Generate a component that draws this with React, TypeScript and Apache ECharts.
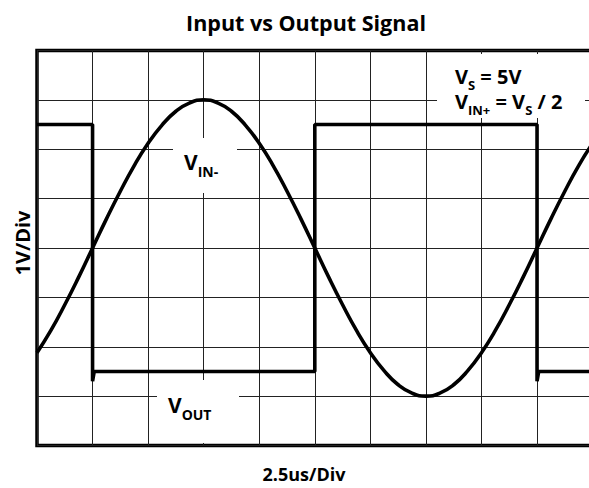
import React, { useEffect, useRef } from "react";
import * as echarts from "echarts";

// Divisions: x = 2.5us/div (10 divs), y = 1V/div (8 divs)
const vinX = [0, 0.25, 0.5, 0.75, 1, 1.25, 1.5, 1.75, 2, 2.25, 2.5, 2.75, 3, 3.25, 3.5, 3.75, 4, 4.25, 4.5, 4.75, 5, 5.25, 5.5, 5.75, 6, 6.25, 6.5, 6.75, 7, 7.25, 7.5, 7.75, 8, 8.25, 8.5, 8.75, 9, 9.25, 9.5, 9.75, 10];
const vinY = [1.88, 2.33, 2.85, 3.41, 4.0, 4.59, 5.15, 5.67, 6.12, 6.49, 6.77, 6.94, 7.0, 6.94, 6.77, 6.49, 6.12, 5.67, 5.15, 4.59, 4.0, 3.41, 2.85, 2.33, 1.88, 1.51, 1.23, 1.06, 1.0, 1.06, 1.23, 1.51, 1.88, 2.33, 2.85, 3.41, 4.0, 4.59, 5.15, 5.67, 6.12];
const voutX = [0, 1.0, 1.0, 1.03, 5.0, 5.0, 9.0, 9.0, 9.03, 10];
const voutY = [6.5, 6.5, 1.3, 1.5, 1.5, 6.5, 6.5, 1.3, 1.5, 1.5];

const titleText = "Input vs Output Signal";
const xName = "2.5us/Div";
const yName = "1V/Div";

const FONT = "'Open Sans', 'Noto Sans', sans-serif";

export default function App() {
  const ref = useRef<HTMLDivElement>(null);
  useEffect(() => {
    if (!ref.current) return;
    const chart = echarts.init(ref.current, null, { renderer: "svg" });
    const vinData = vinX.map((x, i) => [x, vinY[i]]);
    const voutData = voutX.map((x, i) => [x, voutY[i]]);
    const mainTok = { fontSize: 21, fontWeight: "bold", fontFamily: FONT, lineHeight: 22, verticalAlign: "top", fill: "#000" };
    const subTok = { fontSize: 14, fontWeight: "bold", fontFamily: FONT, lineHeight: 14, verticalAlign: "top", padding: [13, 0, 0, 0], fill: "#000" };
    const mainTok2 = { ...mainTok, fontSize: 20 };
    const subTok2 = { ...subTok, fontSize: 13, lineHeight: 13, padding: [12, 0, 0, 0] };
    const axis = (max: number) => ({
      type: "value",
      min: 0,
      max,
      interval: 1,
      axisLine: { show: false },
      axisTick: { show: false },
      axisLabel: { show: false },
      splitLine: { show: true, lineStyle: { color: "#222", width: 1 } },
    });
    chart.setOption({
      animation: false,
      backgroundColor: "#fff",
      grid: {
        left: 37,
        top: 50.5,
        width: 555.6,
        height: 395,
        outerBoundsMode: "none",
        containLabel: false,
        show: true,
        borderColor: "#000",
        borderWidth: 3.5,
        backgroundColor: "#fff",
      },
      xAxis: axis(10),
      yAxis: axis(8),
      series: [
        {
          name: "VIN-",
          type: "line",
          data: vinData,
          symbol: "none",
          smooth: true,
          lineStyle: { color: "#000", width: 3.6 },
          z: 3,
        },
        {
          name: "VOUT",
          type: "line",
          data: voutData,
          symbol: "none",
          lineStyle: { color: "#000", width: 3.6 },
          z: 3,
        },
      ],
      graphic: [
        { type: "rect", z: 100, shape: { x: 437, y: 54, width: 148, height: 64 }, style: { fill: "#fff" } },
        { type: "rect", z: 100, shape: { x: 173, y: 138, width: 64, height: 55 }, style: { fill: "#fff" } },
        { type: "rect", z: 100, shape: { x: 157, y: 380, width: 82, height: 63 }, style: { fill: "#fff" } },
        {
          type: "text", z: 101, x: 306, y: 22,
          style: { text: titleText, fill: "#000", fontSize: 21.5, fontWeight: "bold", fontFamily: FONT, textAlign: "center", textVerticalAlign: "middle" },
        },
        {
          type: "text", z: 101, x: 304, y: 474,
          style: { text: xName, fill: "#000", fontSize: 18, fontWeight: "bold", fontFamily: FONT, textAlign: "center", textVerticalAlign: "middle" },
        },
        {
          type: "text", z: 101, x: 22, y: 243, rotation: Math.PI / 2,
          style: { text: yName, fill: "#000", fontSize: 20, fontWeight: "bold", fontFamily: FONT, textAlign: "center", textVerticalAlign: "middle" },
        },
        {
          type: "text", z: 101, x: 455, y: 66,
          style: { text: "{v|V}{s|S}{v| = 5V}", rich: { v: mainTok2, s: subTok2 }, fill: "#000", textVerticalAlign: "top" },
        },
        {
          type: "text", z: 101, x: 455, y: 91,
          style: { text: "{v|V}{s|IN+}{v| = V}{s|S}{v| / 2}", rich: { v: mainTok2, s: subTok2 }, fill: "#000", textVerticalAlign: "top" },
        },
        {
          type: "text", z: 101, x: 184, y: 151,
          style: { text: "{v|V}{s|IN-}", rich: { v: mainTok, s: subTok }, fill: "#000", textVerticalAlign: "top" },
        },
        {
          type: "text", z: 101, x: 168, y: 394,
          style: { text: "{v|V}{s|OUT}", rich: { v: mainTok, s: subTok }, fill: "#000", textVerticalAlign: "top" },
        },
      ],
    });
    return () => chart.dispose();
  }, []);
  return <div ref={ref} style={{ position: "absolute", left: 0, top: 0, width: 589, height: 488 }} />;
}
